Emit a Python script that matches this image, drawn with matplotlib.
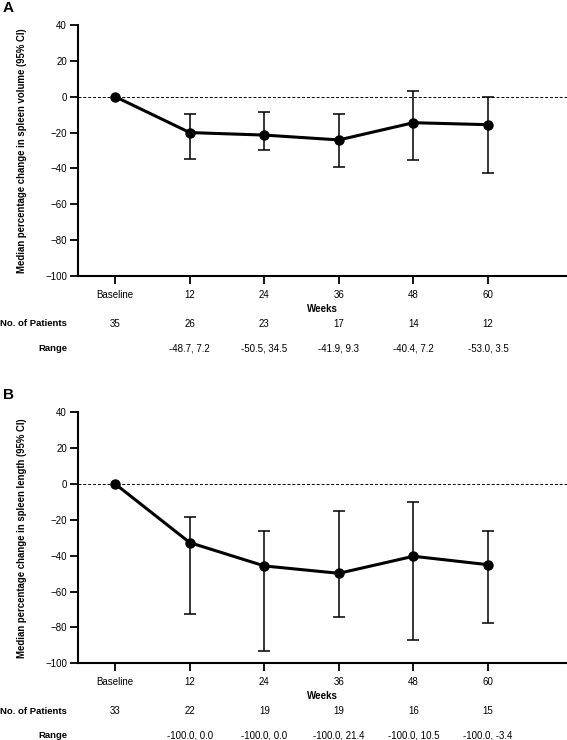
"""Median percentage change in spleen volume / length over time."""

import matplotlib

matplotlib.use("Agg")

import matplotlib.pyplot as plt  # noqa: E402
from matplotlib.transforms import blended_transform_factory  # noqa: E402

plt.rcParams["font.family"] = ["Liberation Sans", "DejaVu Sans"]

# ---------------------------------------------------------------------------
# Data
# ---------------------------------------------------------------------------

weeks = ["Baseline", "12", "24", "36", "48", "60"]

volume_median = [0.0, -20.0, -21.4, -24.1, -14.5, -15.6]
volume_ci_low = [0.0, -34.7, -29.7, -39.0, -35.3, -42.4]
volume_ci_high = [0.0, -9.8, -8.5, -9.6, 3.0, 0.0]
volume_patients = ["35", "26", "23", "17", "14", "12"]
volume_range = ["", "-48.7, 7.2", "-50.5, 34.5", "-41.9, 9.3", "-40.4, 7.2", "-53.0, 3.5"]

length_median = [0.0, -32.7, -45.7, -49.8, -40.3, -45.0]
length_ci_low = [0.0, -72.5, -93.3, -74.3, -86.8, -77.7]
length_ci_high = [0.0, -18.4, -26.0, -15.2, -10.0, -26.0]
length_patients = ["33", "22", "19", "19", "16", "15"]
length_range = ["", "-100.0, 0.0", "-100.0, 0.0", "-100.0, 21.4", "-100.0, 10.5", "-100.0, -3.4"]

FIG_W, FIG_H = 567, 740


def _fy(px):
    return 1 - px / FIG_H


def _panel(fig, letter, top_px, bottom_px, median, lo, hi, patients, ranges, ylabel):
    left = 78 / FIG_W
    ax = fig.add_axes([left, _fy(bottom_px), 1.0 - left, (bottom_px - top_px) / FIG_H])
    xs = list(range(len(weeks)))

    yerr = [[m - l for m, l in zip(median, lo)], [h - m for m, h in zip(median, hi)]]
    ax.axhline(0, color="black", linestyle=(0, (3, 2)), linewidth=0.7, zorder=1)
    ax.errorbar(xs[1:], median[1:], yerr=[yerr[0][1:], yerr[1][1:]], fmt="none",
                ecolor="black", elinewidth=1.1, capsize=4, capthick=1.1, zorder=2)
    ax.plot(xs, median, color="black", linewidth=2.2, marker="o", markersize=6.5, zorder=3)

    ax.set_xlim(-0.5, 6.06)
    ax.set_ylim(-100, 40)
    ax.set_yticks(range(-100, 41, 20))
    ax.set_xticks(xs)
    ax.set_xticklabels([])
    ax.spines["top"].set_visible(False)
    ax.spines["right"].set_visible(False)
    for s in ("left", "bottom"):
        ax.spines[s].set_linewidth(1.5)
    ax.tick_params(axis="both", direction="out", length=6, width=1.3, labelsize=7, pad=2)
    ax.set_ylabel(ylabel, fontsize=6.9, fontweight="bold", labelpad=13)

    trans = blended_transform_factory(ax.transData, fig.transFigure)
    for x, lab, n, r in zip(xs, weeks, patients, ranges):
        ax.text(x, _fy(bottom_px + 19), lab, transform=trans, ha="center", va="center", fontsize=7)
        ax.text(x, _fy(bottom_px + 48), n, transform=trans, ha="center", va="center", fontsize=7)
        ax.text(x, _fy(bottom_px + 72), r, transform=trans, ha="center", va="center", fontsize=7)

    fig.text(322 / FIG_W, _fy(bottom_px + 33), "Weeks", ha="center", va="center",
             fontsize=7, fontweight="bold")
    fig.text(67 / FIG_W, _fy(bottom_px + 48), "No. of Patients", ha="right", va="center",
             fontsize=6.8, fontweight="bold")
    fig.text(67 / FIG_W, _fy(bottom_px + 72), "Range", ha="right", va="center",
             fontsize=6.8, fontweight="bold")
    fig.text(3 / FIG_W, _fy(top_px - 17), letter, ha="left", va="center",
             fontsize=11, fontweight="bold")
    return ax


fig = plt.figure(figsize=(FIG_W / 100, FIG_H / 100), dpi=100)

_panel(fig, "A", 25, 276, volume_median, volume_ci_low, volume_ci_high,
       volume_patients, volume_range,
       "Median percentage change in spleen volume (95% CI)")
_panel(fig, "B", 412.3, 663.3, length_median, length_ci_low, length_ci_high,
       length_patients, length_range,
       "Median percentage change in spleen length (95% CI)")

fig.savefig("out.png", dpi=100)
plt.close(fig)
